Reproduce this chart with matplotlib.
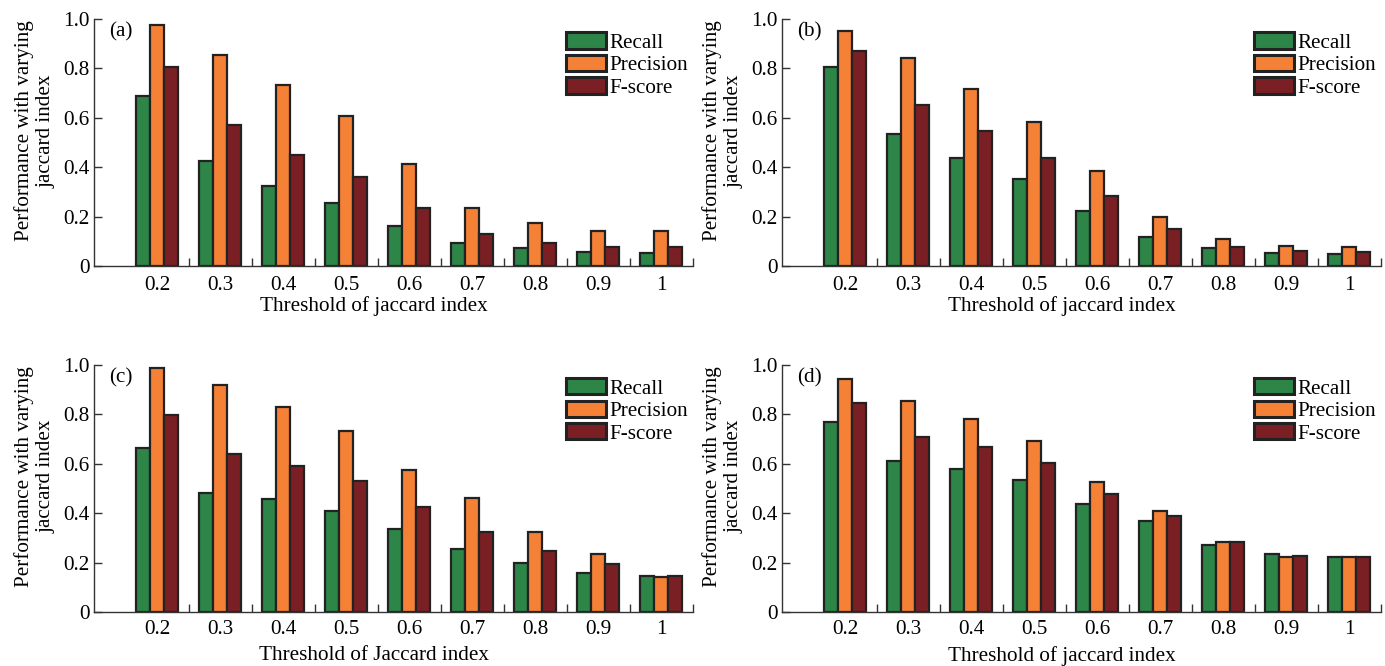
import numpy as np
import matplotlib
matplotlib.use("Agg")
import matplotlib.pyplot as plt
from matplotlib.ticker import FixedLocator

plt.rcParams['font.family'] = ['Liberation Serif', 'DejaVu Serif']
FS = 15.2

thresholds = ["0.2", "0.3", "0.4", "0.5", "0.6", "0.7", "0.8", "0.9", "1"]
series_names = ["Recall", "Precision", "F-score"]
colors = ["#2e8548", "#f58137", "#7a1f23"]

recall_a = [0.690, 0.426, 0.323, 0.257, 0.162, 0.093, 0.074, 0.058, 0.053]
precision_a = [0.976, 0.852, 0.732, 0.607, 0.414, 0.236, 0.175, 0.143, 0.143]
fscore_a = [0.806, 0.569, 0.449, 0.361, 0.236, 0.132, 0.093, 0.078, 0.078]

recall_b = [0.806, 0.536, 0.439, 0.352, 0.225, 0.118, 0.075, 0.053, 0.049]
precision_b = [0.950, 0.841, 0.718, 0.583, 0.384, 0.198, 0.112, 0.082, 0.078]
fscore_b = [0.871, 0.652, 0.546, 0.438, 0.286, 0.150, 0.079, 0.062, 0.059]

recall_c = [0.663, 0.481, 0.457, 0.410, 0.336, 0.255, 0.198, 0.159, 0.147]
precision_c = [0.987, 0.919, 0.827, 0.730, 0.573, 0.462, 0.324, 0.235, 0.140]
fscore_c = [0.796, 0.638, 0.590, 0.528, 0.425, 0.324, 0.245, 0.194, 0.147]

recall_d = [0.766, 0.609, 0.579, 0.532, 0.437, 0.368, 0.272, 0.235, 0.224]
precision_d = [0.940, 0.852, 0.778, 0.690, 0.527, 0.409, 0.281, 0.224, 0.224]
fscore_d = [0.844, 0.707, 0.667, 0.602, 0.478, 0.387, 0.281, 0.227, 0.224]

panels = [
    ("(a)", [recall_a, precision_a, fscore_a], "Threshold of jaccard index"),
    ("(b)", [recall_b, precision_b, fscore_b], "Threshold of jaccard index"),
    ("(c)", [recall_c, precision_c, fscore_c], "Threshold of Jaccard index"),
    ("(d)", [recall_d, precision_d, fscore_d], "Threshold of jaccard index"),
]

W, H = 1385, 666
fig = plt.figure(figsize=(W / 100, H / 100), dpi=100)

axw, axh = 599, 247.5
# left px, y px of the zero line, tick pad, xlabel (y, va)
boxes = [
    (94, 266.3, 7, (-0.122, 'top')),
    (782, 266.3, 7, (-0.122, 'top')),
    (94, 612, 6, ((612 - 665.5) / axh, 'bottom')),
    (782, 612, 6, ((612 - 665.5) / axh, 'bottom')),
]

edge = "#222222"
spine_c = "#333333"

for (lab, vals, xlab), (lx, by, tpad, (xly, xva)) in zip(panels, boxes):
    ax = fig.add_axes([lx / W, 1 - by / H, axw / W, axh / H])
    x = np.arange(1, len(thresholds) + 1)
    bw = 0.222
    for k, (v, c, nm) in enumerate(zip(vals, colors, series_names)):
        ax.bar(x + (k - 1) * bw, v, width=bw, color=c, edgecolor=edge,
               linewidth=1.6, label=nm, zorder=2)
    ax.set_xlim(0, 9.5)
    ax.set_ylim(0, 1.0)
    ax.spines['top'].set_visible(False)
    ax.spines['right'].set_visible(False)
    for s in ('left', 'bottom'):
        ax.spines[s].set_color(spine_c)
        ax.spines[s].set_linewidth(1.0)
    ax.set_xticks(x)
    ax.set_xticklabels(thresholds)
    ax.xaxis.set_minor_locator(FixedLocator(np.arange(1.5, 9.6, 1.0)))
    ax.tick_params(axis='x', which='major', length=0, pad=tpad, labelsize=FS)
    ax.tick_params(axis='x', which='minor', direction='in', length=6,
                   width=1, color=spine_c)
    ax.set_yticks([0, 0.2, 0.4, 0.6, 0.8, 1.0])
    ax.set_yticklabels(["0", "0.2", "0.4", "0.6", "0.8", "1.0"])
    ax.tick_params(axis='y', direction='in', length=6, width=1,
                   color=spine_c, pad=3, labelsize=FS)
    ax.set_xlabel(xlab, fontsize=FS, va=xva)
    ax.xaxis.set_label_coords(0.467, xly)
    ax.text(-0.0985, 0.547, "Performance with varying\njaccard index",
            transform=ax.transAxes, rotation=90, ha='center', va='center',
            multialignment='center', fontsize=FS, linespacing=1.15)
    ax.text(0.025, 0.985, lab, transform=ax.transAxes, ha='left', va='top',
            fontsize=FS)
    leg = ax.legend(loc='upper left', bbox_to_anchor=(0.788, 0.945),
                    frameon=False, fontsize=FS, handlelength=1.9,
                    handleheight=0.8, labelspacing=0.1, handletextpad=0.15,
                    borderpad=0, borderaxespad=0)
    for p in leg.get_patches():
        p.set_linewidth(2.2)

fig.savefig("out.png", dpi=100)
